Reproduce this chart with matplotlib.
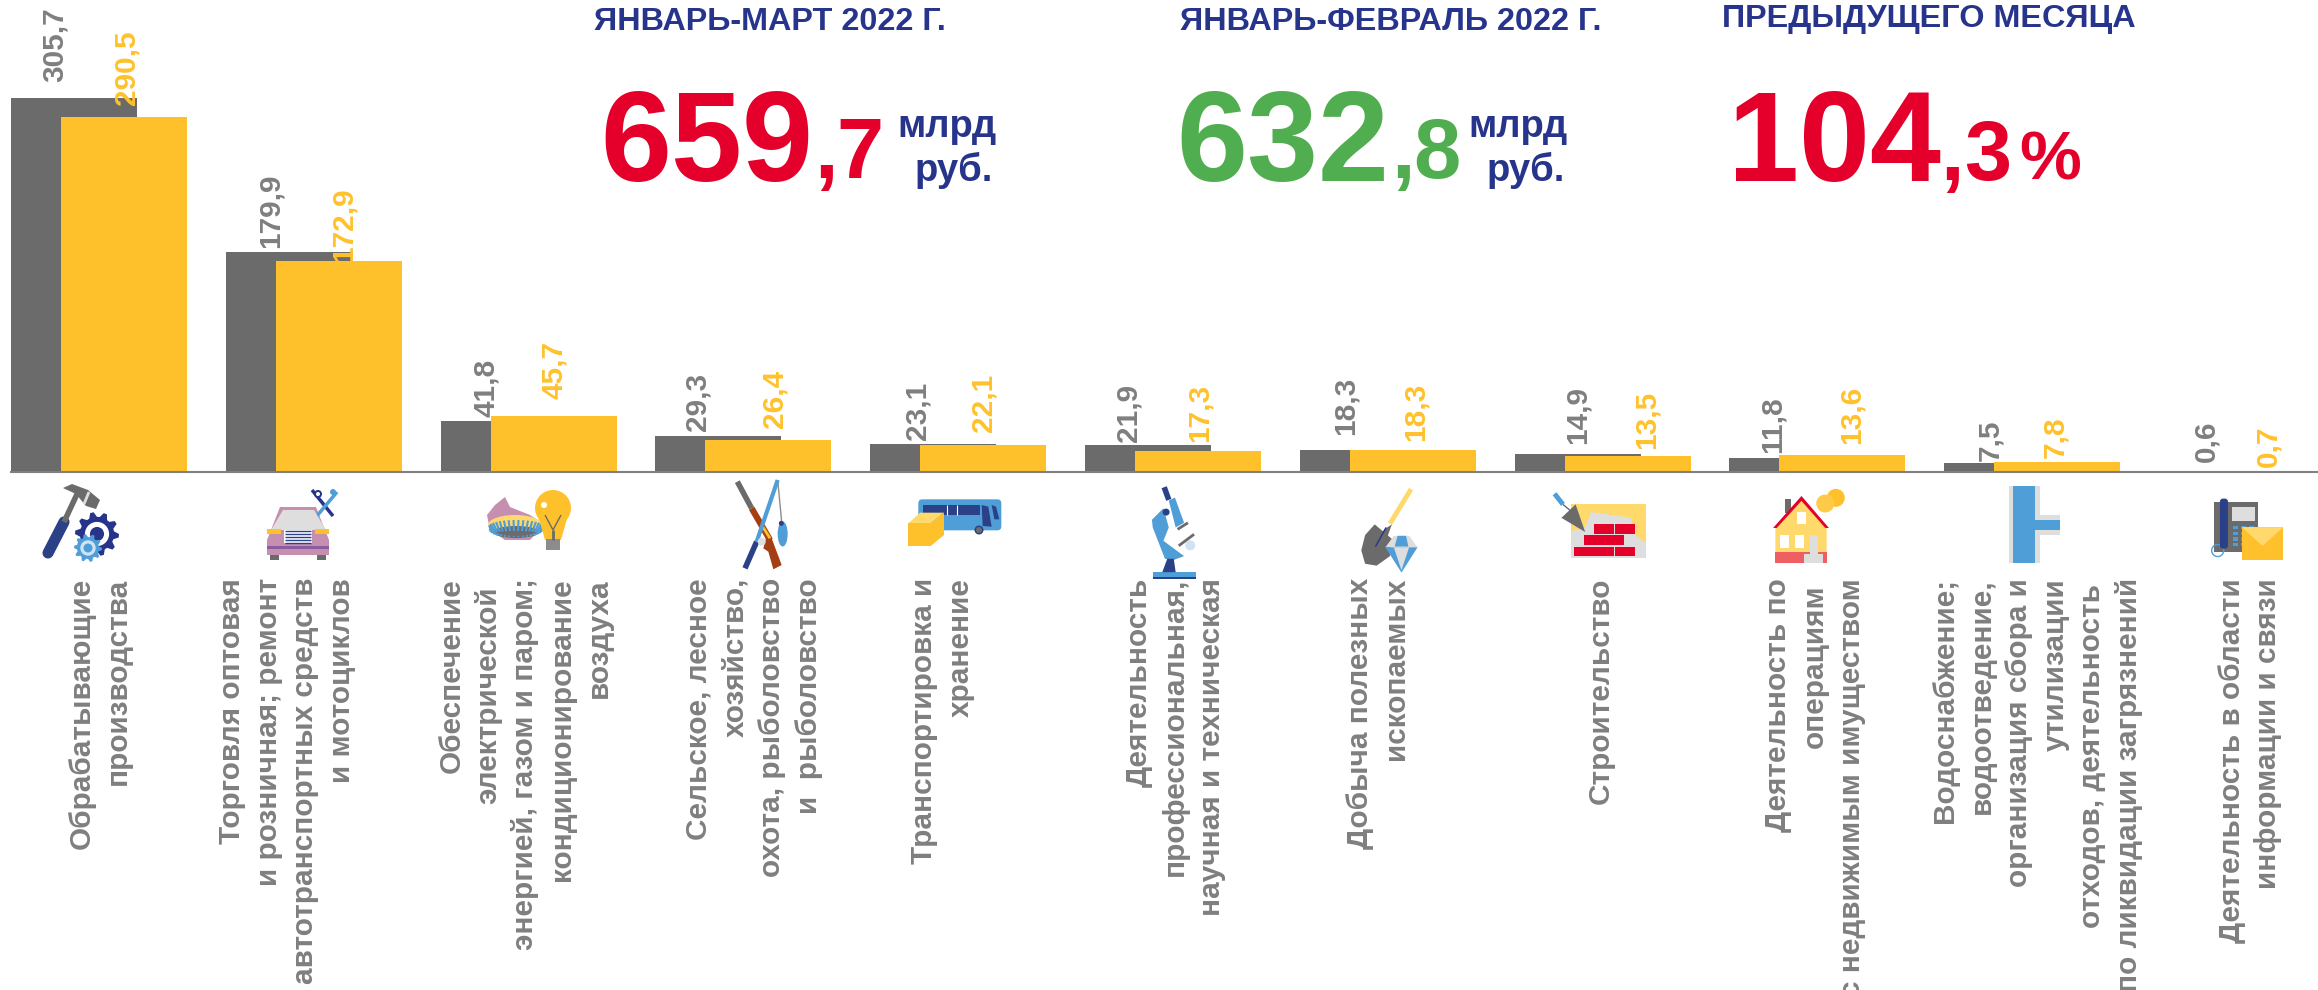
import numpy as np
import matplotlib
matplotlib.use('Agg')
import matplotlib.pyplot as plt
from matplotlib.patches import Polygon, Circle, Ellipse, Rectangle, FancyBboxPatch

plt.rcParams['font.family'] = ['Liberation Sans', 'DejaVu Sans']

prev_vals = [305.7, 179.9, 41.8, 29.3, 23.1, 21.9, 18.3, 14.9, 11.8, 7.5, 0.6]
curr_vals = [290.5, 172.9, 45.7, 26.4, 22.1, 17.3, 18.3, 13.5, 13.6, 7.8, 0.7]

labels = [
    ['Обрабатывающие', 'производства'],
    ['Торговля оптовая', 'и розничная; ремонт', 'автотранспортных средств', 'и мотоциклов'],
    ['Обеспечение', 'электрической', 'энергией, газом и паром;', 'кондиционирование', 'воздуха'],
    ['Сельское, лесное', 'хозяйство,', 'охота, рыболовство', 'и  рыболовство'],
    ['Транспортировка и', 'хранение'],
    ['Деятельность', 'профессиональная,', 'научная и техническая'],
    ['Добыча полезных', 'ископаемых'],
    ['Строительство'],
    ['Деятельность по', 'операциям', 'с недвижимым имуществом'],
    ['Водоснабжение;', 'водоотведение,', 'организация сбора и', 'утилизации', 'отходов, деятельность', 'по ликвидации загрязнений'],
    ['Деятельность в области', 'информации и связи'],
]

# layout, in pixels of the full picture
label_x = [100, 287, 525, 754, 942, 1175, 1378, 1601, 1815, 2037, 2250]
label_shift = {(2, 1): 8, (8, 1): 6, (9, 4): 6}
prev_dx = [-19, -18, -18, -21, -16, -20, -17, 0, -20, -17, -16]
curr_dx = [3, 5, 0, 6, 0, 2, 3, 19, 9, -2, -4]
prev_gap = [16, 4, 4, 5, 4, 3, 15, 10, 5, 2, 9]
curr_gap = [12, -1, 17, 12, 13, 9, 9, 7, 11, 4, 4]

W, H = 2318, 990
GRAY = '#6b6b6b'
TXT = '#7f7f7f'
YEL = '#ffc12b'
PALE = '#ffd96b'
NAVY = '#27348b'
DBLUE = '#2a4188'
BLUE = '#4f9ed8'
RED = '#e4002b'
GREEN = '#50ae50'
LGRAY = '#dedede'
PINK = '#c68fb0'
BROWN = '#a33f12'

fig = plt.figure(figsize=(W / 100, H / 100), dpi=100)

BASE = 472
PX_UNIT = 1.222
STEP = 214.8
BAR_W = 126 / STEP
OFF = 50 / STEP

ax = fig.add_axes([11 / W, (H - BASE) / H, (W - 11) / W, BASE / H])
ax.set_xlim(0, (W - 11) / STEP)
ax.set_ylim(0, BASE / PX_UNIT)
ax.patch.set_alpha(0)
x = np.arange(len(prev_vals))
ax.bar(x, prev_vals, BAR_W, align='edge', color=GRAY, zorder=2)
ax.bar(x + OFF, curr_vals, BAR_W, align='edge', color=YEL, zorder=3)
for s in ['top', 'right', 'left']:
    ax.spines[s].set_visible(False)
ax.spines['bottom'].set_color('#808080')
ax.spines['bottom'].set_linewidth(1.5)
ax.spines['bottom'].set_zorder(4)
ax.set_xticks([])
ax.set_yticks([])

for i in x:
    ax.annotate(str(prev_vals[i]).replace('.', ','), (i + BAR_W / 2, prev_vals[i]),
                xytext=(prev_dx[i] * .72, prev_gap[i] * .72), textcoords='offset points',
                rotation=90, ha='center', va='bottom', fontsize=21.4, fontweight='bold',
                color=TXT, zorder=5, annotation_clip=False)
    ax.annotate(str(curr_vals[i]).replace('.', ','), (i + OFF + BAR_W / 2, curr_vals[i]),
                xytext=(curr_dx[i] * .72, curr_gap[i] * .72), textcoords='offset points',
                rotation=90, ha='center', va='bottom', fontsize=21.4, fontweight='bold',
                color=YEL, zorder=5, annotation_clip=False)

# overlay in picture pixels for icons and texts
pix = fig.add_axes([0, 0, 1, 1])
pix.set_xlim(0, W)
pix.set_ylim(H, 0)
pix.axis('off')
pix.patch.set_alpha(0)

for i, lines in enumerate(labels):
    for j, line in enumerate(lines):
        px = label_x[i] + (j - (len(lines) - 1) / 2) * 36.7
        pix.text(px, 578 + label_shift.get((i, j), 0), line, rotation=90, ha='center', va='top',
                 fontsize=21.4, fontweight='bold', color=TXT)


def head(px, py, s, size=23.3, color=NAVY):
    pix.text(px, py, s, fontsize=size, fontweight='bold', color=color, ha='left', va='baseline')


def big(px, py, s, size, color):
    pix.text(px, py, s, fontsize=size, fontweight='bold', color=color, ha='left', va='baseline')


head(594, 30, 'ЯНВАРЬ-МАРТ 2022 Г.')
head(1180, 30, 'ЯНВАРЬ-ФЕВРАЛЬ 2022 Г.')
head(1722, 27, 'ПРЕДЫДУЩЕГО МЕСЯЦА')

big(600, 181, '659', 92, RED)
big(814, 178, ',', 61, RED)
big(836, 178, '7', 61, RED)
big(1176, 181, '632', 92, GREEN)
big(1391, 178, ',', 61, GREEN)
big(1413, 178, '8', 61, GREEN)
big(1728, 181, '104', 92, RED)
big(1940, 180, ',', 61, RED)
big(1964, 180, '3', 61, RED)
big(2019, 180, '%', 50, RED)

big(897, 137, 'млрд', 27.5, NAVY)
big(915, 181, 'руб.', 27.5, NAVY)
big(1468, 137, 'млрд', 27.5, NAVY)
big(1487, 181, 'руб.', 27.5, NAVY)


def poly(pts, c, z=3):
    pix.add_patch(Polygon(pts, closed=True, facecolor=c, edgecolor='none', zorder=z))


def seg(a, b, c, w, z=3, cap='butt'):
    pix.plot([a[0], b[0]], [a[1], b[1]], color=c, lw=w, solid_capstyle=cap, zorder=z)


def circ(p, r, c, z=3):
    pix.add_patch(Circle(p, r, facecolor=c, edgecolor='none', zorder=z))


def rect(x0, y0, x1, y1, c, z=3):
    pix.add_patch(Rectangle((x0, y0), x1 - x0, y1 - y0, facecolor=c, edgecolor='none', zorder=z))


def gear(p, r, c, hole, teeth):
    ang = np.linspace(0, 2 * np.pi, teeth * 4, endpoint=False)
    rad = np.tile([r, r, r * .78, r * .78], teeth)
    poly(np.c_[p[0] + rad * np.cos(ang), p[1] + rad * np.sin(ang)], c, 4)
    circ(p, r * .55, hole, 4)
    circ(p, r * .32, c, 4)


# hammer and gears
seg((48, 553), (64, 522), DBLUE, 8, cap='round')
seg((64, 522), (78, 492), GRAY, 4)
poly([(63, 488), (72, 484), (88, 490), (100, 500), (96, 509), (86, 506), (76, 494)], GRAY)
seg((89, 492), (84, 504), LGRAY, 2, 4)
gear((97, 534), 22, NAVY, 'white', 10)
gear((88, 548), 14, BLUE, '#cfe3f5', 10)

# car and scissors
poly([(280, 507), (316, 507), (329, 540), (329, 555), (267, 555), (267, 540)], PINK)
poly([(283, 510), (314, 510), (326, 530), (271, 530)], LGRAY, 4)
rect(267, 529, 281, 534, YEL, 4)
rect(315, 529, 329, 534, YEL, 4)
rect(284, 530, 312, 543, 'white', 4)
for yy in range(531, 544, 3):
    seg((285, yy), (311, yy), DBLUE, 1, 5)
rect(267, 546, 329, 549, '#8a5da0', 4)
rect(270, 555, 279, 560, GRAY)
rect(317, 555, 326, 560, GRAY)
seg((312, 490), (333, 516), NAVY, 2.5)
seg((337, 492), (316, 517), BLUE, 2.5)
circ((318, 494), 4, NAVY)
circ((318, 494), 2, 'white', 4)
circ((333, 492), 3, BLUE)

# gas flame and bulb
poly([(505, 497), (510, 507), (530, 515), (545, 525), (530, 540), (505, 540), (490, 530), (487, 515), (495, 505)], PINK)
pix.add_patch(Ellipse((515, 525), 54, 20, facecolor=PALE, zorder=4))
pix.add_patch(Ellipse((516, 532), 46, 12, facecolor=GRAY, zorder=4))
for a in np.linspace(0, np.pi, 18):
    seg((516 + 27 * np.cos(a), 526 - 6 * np.sin(a)), (516 + 22 * np.cos(a), 533 - 2 * np.sin(a)), BLUE, 1.5, 5)
    seg((516 + 27 * np.cos(a), 529 + 8 * np.sin(a)), (516 + 23 * np.cos(a), 531 + 5 * np.sin(a)), BLUE, 1.5, 5)
circ((553, 508), 18, YEL, 5)
poly([(538, 515), (568, 515), (561, 540), (545, 540)], YEL, 5)
rect(546, 539, 560, 550, '#8c8c8c', 5)
seg((545, 515), (553, 530), GRAY, 1, 6)
seg((561, 515), (553, 530), GRAY, 1, 6)
seg((553, 530), (553, 540), GRAY, 2, 6)
circ((544, 505), 3, 'white', 6)


def z7(*p):
    return (640 + p[0] / 3, 470 + p[1] / 3)


# gun, rod and fish
seg(z7(292, 35), z7(335, 115), GRAY, 4)
seg(z7(335, 115), z7(390, 210), BROWN, 4.5)
seg(z7(365, 165), z7(390, 205), YEL, 2, 4)
poly([z7(378, 205), z7(395, 205), z7(425, 285), z7(400, 298), z7(385, 245), z7(370, 235)], BROWN)
seg(z7(315, 295), z7(350, 215), DBLUE, 4)
seg(z7(350, 215), z7(413, 30), BLUE, 3, 4)
seg(z7(413, 30), z7(425, 155), '#8c8c8c', 1)
circ(z7(365, 215), 4, LGRAY, 5)
pix.add_patch(Ellipse(z7(428, 192), 10, 25, facecolor=BLUE, zorder=3))
circ(z7(424, 160), 2.5, DBLUE, 4)

# bus and box
pix.add_patch(FancyBboxPatch(z7(835, 88), 83, 31, boxstyle='round,pad=0,rounding_size=4', facecolor=BLUE, edgecolor='none', zorder=3))
rect(*z7(850, 105), *z7(1020, 135), DBLUE, 4)
seg(z7(922, 105), z7(922, 135), 'white', .8, 5)
seg(z7(952, 105), z7(952, 135), 'white', .8, 5)
poly([z7(1025, 105), z7(1045, 110), z7(1055, 170), z7(1028, 168)], DBLUE, 4)
poly([z7(1055, 105), z7(1068, 110), z7(1078, 148), z7(1063, 148)], DBLUE, 4)
circ(z7(1017, 180), 4.5, DBLUE, 4)
circ(z7(1017, 180), 3, GRAY, 5)
poly([z7(805, 160), z7(840, 128), z7(912, 128), z7(872, 160)], PALE, 5)
rect(*z7(805, 160), *z7(872, 228), YEL, 5)
poly([z7(872, 160), z7(912, 128), z7(912, 195), z7(872, 228)], YEL, 5)


def z8(*p):
    return (1080 + p[0] / 2.613, 470 + p[1] / 2.613)


# microscope
rect(*z8(190, 267), *z8(303, 280), BLUE)
rect(*z8(190, 280), *z8(303, 286), DBLUE)
poly([z8(215, 267), z8(228, 232), z8(245, 232), z8(250, 267)], DBLUE, 4)
poly([z8(188, 130), z8(218, 100), z8(232, 150), z8(218, 185), z8(245, 205), z8(272, 225), z8(245, 235), z8(222, 232), z8(190, 150)], BLUE)
poly([z8(232, 80), z8(248, 72), z8(272, 138), z8(250, 150)], BLUE)
seg(z8(220, 45), z8(232, 78), DBLUE, 4)
circ(z8(225, 110), 3.5, DBLUE, 4)
seg(z8(255, 155), z8(282, 138), GRAY, 2, 4)
seg(z8(258, 198), z8(298, 168), GRAY, 2, 4)
circ(z8(288, 197), 5, '#cfe3f5', 4)

# shovel and diamond
seg(z8(810, 140), z8(865, 50), PALE, 3.5)
poly([z8(770, 142), z8(815, 180), z8(810, 225), z8(775, 250), z8(745, 245), z8(735, 210), z8(745, 170)], GRAY)
poly([z8(772, 200), z8(795, 155), z8(815, 142), z8(802, 178)], GRAY, 4)
seg(z8(772, 200), z8(800, 150), NAVY, 1, 5)
poly([z8(820, 172), z8(860, 172), z8(882, 202), z8(798, 202)], LGRAY, 5)
poly([z8(798, 202), z8(882, 202), z8(840, 268)], BLUE, 5)
poly([z8(820, 202), z8(860, 202), z8(840, 262)], LGRAY, 6)
poly([z8(830, 172), z8(852, 172), z8(858, 200), z8(822, 200)], BLUE, 6)

# bricks and trowel
rect(*z8(1283, 90), *z8(1478, 230), PALE)
poly([z8(1283, 230), z8(1283, 160), z8(1320, 150), z8(1335, 110), z8(1370, 115), z8(1440, 125), z8(1450, 170), z8(1478, 190), z8(1478, 230)], LGRAY, 4)
for row, (y0, y1, xs) in enumerate([(141, 167, [1343, 1397]), (170, 197, [1317, 1370]), (200, 226, [1290, 1343, 1397])]):
    for xb in xs:
        rect(*z8(xb, y0), *z8(xb + 52, y1), RED, 5)
poly([z8(1295, 90), z8(1320, 162), z8(1258, 125)], GRAY, 6)
seg(z8(1240, 62), z8(1262, 90), BLUE, 3.5, 6)
seg(z8(1262, 90), z8(1280, 105), GRAY, 1, 6)


def z3(*p):
    return (1600 + p[0] / 2.184, 400 + p[1] / 2.657)


# house and coins
rect(*z3(405, 262), *z3(418, 300), GRAY)
poly([z3(383, 340), z3(440, 262), z3(495, 340), z3(495, 405), z3(383, 405)], PALE, 4)
poly([z3(378, 340), z3(440, 255), z3(500, 340), z3(492, 340), z3(440, 268), z3(386, 340)], RED, 5)
rect(*z3(383, 405), *z3(495, 433), '#ee5f63', 4)
rect(*z3(458, 358), *z3(477, 410), LGRAY, 5)
rect(*z3(445, 410), *z3(488, 433), LGRAY, 5)
for xw, yw, yw2 in [(430, 298, 330), (393, 360, 393), (425, 360, 393)]:
    rect(*z3(xw, yw), *z3(xw + 20, yw2), 'white', 5)
circ(z3(515, 260), 9, YEL, 4)
circ(z3(492, 275), 9, '#ffc94a', 5)

# pipe
rect(*z3(893, 229), *z3(960, 433), LGRAY)
rect(*z3(960, 305), *z3(1005, 358), LGRAY)
rect(*z3(903, 229), *z3(950, 433), BLUE, 4)
rect(*z3(950, 318), *z3(1005, 345), BLUE, 4)

# phone and envelope
rect(*z3(1342, 272), *z3(1438, 403), GRAY)
pix.add_patch(FancyBboxPatch(z3(1354, 262), 8, 50, boxstyle='round,pad=0,rounding_size=3', facecolor=DBLUE, edgecolor='none', zorder=4))
rect(*z3(1380, 283), *z3(1430, 322), LGRAY, 4)
for xk in [1383, 1400, 1417]:
    for yk in [335, 350, 365, 380]:
        rect(*z3(xk, yk), *z3(xk + 11, yk + 9), BLUE, 4)
pix.add_patch(Circle(z3(1349, 400), 6, facecolor='none', edgecolor=BLUE, lw=1, zorder=3))
rect(*z3(1402, 338), *z3(1492, 425), YEL, 5)
poly([z3(1402, 338), z3(1492, 338), z3(1447, 388)], PALE, 6)

fig.savefig('out.png', dpi=100)
